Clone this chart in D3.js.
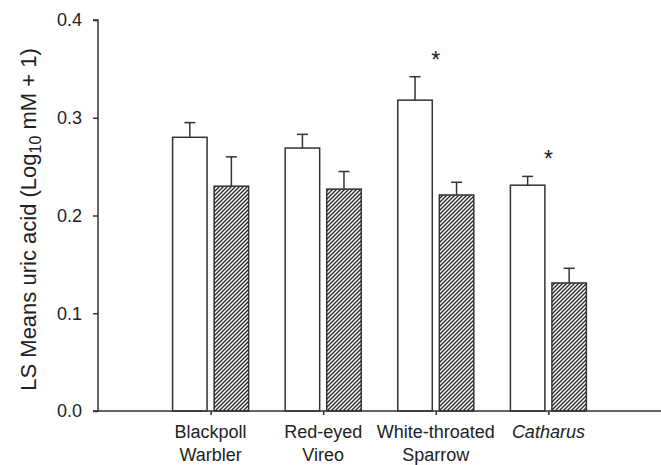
<!DOCTYPE html>
<html lang="en">
<head>
  <meta charset="UTF-8">
  <title>Uric acid</title>
  <style>
    body { margin: 0; background: #fff; }
    text { font-family: "Liberation Sans", Arial, Helvetica, sans-serif; fill: #222; }
  </style>
</head>
<body>
  <svg id="svg" width="661" height="465"></svg>
  <script src="https://cdn.jsdelivr.net/npm/d3@7"></script>
  <script>
    // species (label lines), open bars and hatched bars with their SE
    const species = [['Blackpoll', 'Warbler'], ['Red-eyed', 'Vireo'], ['White-throated', 'Sparrow'], ['Catharus']]
    const italic = [false, false, false, true]
    const openMeans = [0.280, 0.269, 0.318, 0.231]
    const openSE = [0.015, 0.014, 0.024, 0.009]
    const hatchMeans = [0.230, 0.227, 0.221, 0.131]
    const hatchSE = [0.030, 0.018, 0.013, 0.015]
    const significant = [false, false, true, true]
    const yTicks = [0.0, 0.1, 0.2, 0.3, 0.4]

    const margin = { top: 20, right: 0, bottom: 54, left: 98 }
    const width = 661 - margin.left - margin.right
    const height = 465 - margin.top - margin.bottom
    const ink = '#333'

    const svg = d3.select('#svg')

    // diagonal hatching
    svg.append('defs').append('pattern')
      .attr('id', 'hatch')
      .attr('patternUnits', 'userSpaceOnUse')
      .attr('width', 4)
      .attr('height', 4)
      .append('path')
      .attr('d', 'M-1,1 l2,-2 M0,4 l4,-4 M3,5 l2,-2')
      .attr('stroke', '#222')
      .attr('stroke-width', 1.3)

    const g = svg.append('g').attr('transform', `translate(${margin.left},${margin.top})`)

    const keys = species.map((d, i) => i)
    const xscale = d3.scalePoint()
      .domain(keys)
      .range([0, width])
      .padding(1)

    const inner = d3.scaleBand()
      .domain(['open', 'hatch'])
      .range([-38, 38])
      .paddingInner(0.17)

    const yscale = d3.scaleLinear()
      .domain([0, 0.4])
      .range([height, 0])

    const rows = []
    keys.forEach(i => {
      rows.push({ i, kind: 'open', mean: openMeans[i], se: openSE[i] })
      rows.push({ i, kind: 'hatch', mean: hatchMeans[i], se: hatchSE[i] })
    })

    // error bars (upper only)
    const err = g.append('g').attr('stroke', ink).attr('stroke-width', 1.5)
    err.selectAll('line.v')
      .data(rows)
      .enter()
      .append('line')
      .attr('class', 'v')
      .attr('x1', d => xscale(d.i) + inner(d.kind) + inner.bandwidth() / 2)
      .attr('x2', d => xscale(d.i) + inner(d.kind) + inner.bandwidth() / 2)
      .attr('y1', d => yscale(d.mean))
      .attr('y2', d => yscale(d.mean + d.se))
    err.selectAll('line.cap')
      .data(rows)
      .enter()
      .append('line')
      .attr('class', 'cap')
      .attr('x1', d => xscale(d.i) + inner(d.kind) + inner.bandwidth() / 2 - 5.5)
      .attr('x2', d => xscale(d.i) + inner(d.kind) + inner.bandwidth() / 2 + 5.5)
      .attr('y1', d => yscale(d.mean + d.se))
      .attr('y2', d => yscale(d.mean + d.se))

    // bars
    g.selectAll('rect.bar')
      .data(rows)
      .enter()
      .append('rect')
      .attr('class', 'bar')
      .attr('x', d => xscale(d.i) + inner(d.kind))
      .attr('y', d => yscale(d.mean))
      .attr('width', inner.bandwidth())
      .attr('height', d => height - yscale(d.mean))
      .attr('fill', d => d.kind === 'open' ? '#fff' : 'url(#hatch)')
      .attr('stroke', ink)
      .attr('stroke-width', 1.5)

    // significance stars
    g.selectAll('text.star')
      .data(keys.filter(i => significant[i]))
      .enter()
      .append('text')
      .attr('class', 'star')
      .attr('x', i => xscale(i))
      .attr('y', i => yscale(Math.max(openMeans[i] + openSE[i], hatchMeans[i] + hatchSE[i])) - 9)
      .attr('text-anchor', 'middle')
      .style('font-size', '23px')
      .text('*')

    // left axis
    const leftAxis = d3.axisLeft(yscale)
      .tickValues(yTicks)
      .tickFormat(d3.format('.1f'))
      .tickSize(5)
      .tickPadding(11)
    const ya = g.append('g').call(leftAxis)
    ya.select('.domain').attr('d', `M-5,0H0V${height}H-5`).attr('stroke', ink).attr('stroke-width', 1.5)
    ya.selectAll('.tick line').attr('stroke', ink).attr('stroke-width', 1.5)
    ya.selectAll('.tick text').style('font-size', '18px').attr('fill', '#222')

    // bottom axis
    const bottomAxis = d3.axisBottom(xscale).tickSize(4).tickFormat('')
    const xa = g.append('g').attr('transform', `translate(0,${height})`).call(bottomAxis)
    xa.select('.domain').attr('d', `M0,0H${width}`).attr('stroke', ink).attr('stroke-width', 1.5)
    xa.selectAll('.tick line').attr('stroke', ink).attr('stroke-width', 1.5)

    const labels = g.append('g').attr('transform', `translate(0,${height})`)
    labels.selectAll('text')
      .data(keys)
      .enter()
      .append('text')
      .attr('x', i => xscale(i))
      .attr('y', 27)
      .attr('text-anchor', 'middle')
      .style('font-size', '18px')
      .style('font-style', i => italic[i] ? 'italic' : 'normal')
      .each(function (i) {
        d3.select(this).selectAll('tspan')
          .data(species[i])
          .enter()
          .append('tspan')
          .attr('x', xscale(i))
          .attr('dy', (d, k) => k === 0 ? 0 : 23)
          .text(d => d)
      })

    // y title with subscript
    const title = svg.append('text')
      .attr('transform', `translate(36,${margin.top + height / 2 + 4}) rotate(-90)`)
      .attr('text-anchor', 'middle')
      .style('font-size', '22px')
    title.append('tspan').text('LS Means uric acid (Log')
    title.append('tspan').attr('dy', 5).style('font-size', '16px').text('10')
    title.append('tspan').attr('dy', -5).text(' mM + 1)')
  </script>
</body>
</html>
